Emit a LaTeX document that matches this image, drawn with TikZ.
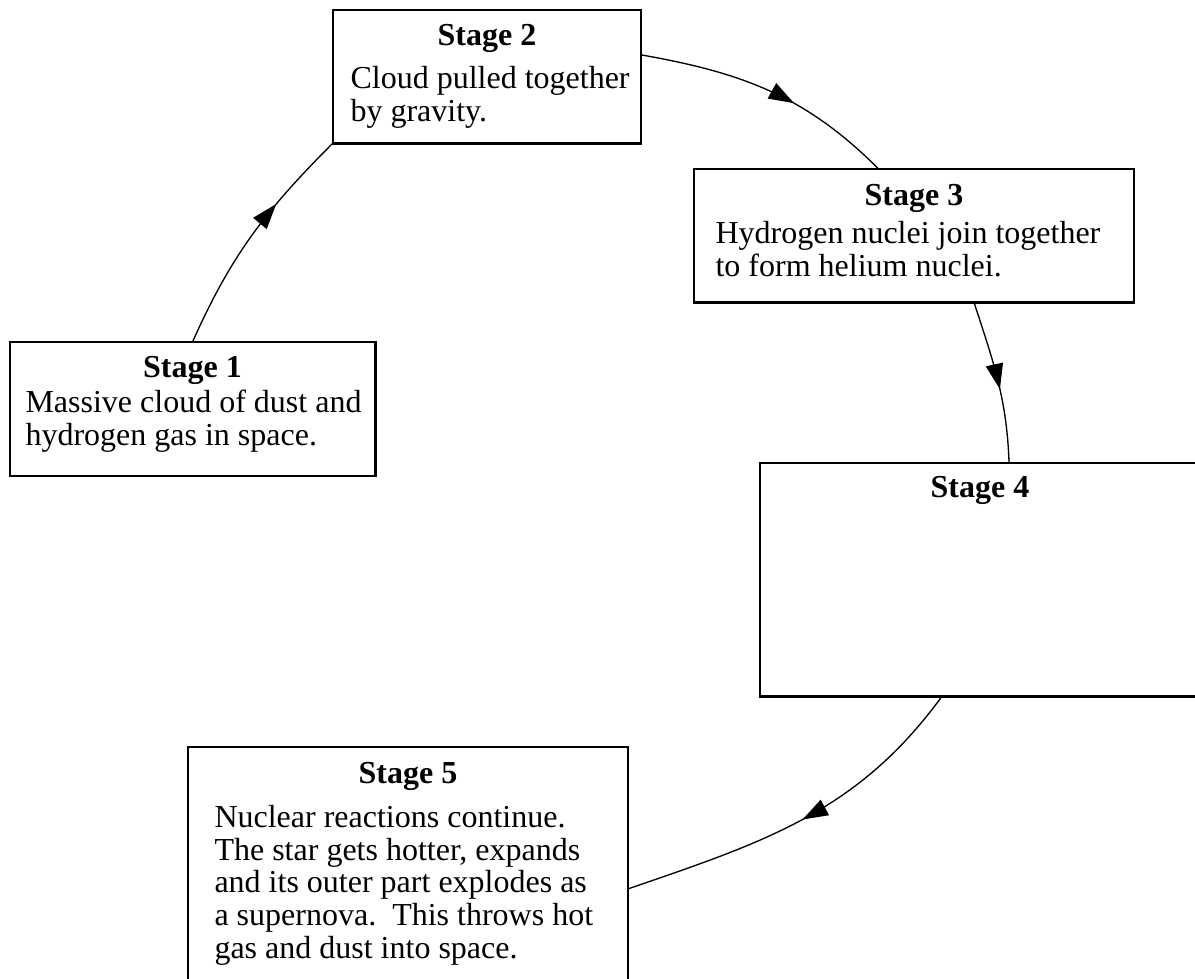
\documentclass[tikz,border=0pt]{standalone}
\usepackage{fontspec}
\setmainfont{Liberation Serif}
\usetikzlibrary{arrows.meta,decorations.markings}

\begin{document}
\begin{tikzpicture}[x=0.375pt,y=0.375pt,
  stagebox/.style={draw,line width=1.1pt,inner sep=0pt,outer sep=0pt},
  stagehead/.style={font=\fontsize{12}{12.2}\selectfont\bfseries,anchor=base,inner sep=0pt},
  stagenote/.style={font=\fontsize{12}{12.2}\selectfont,align=left,anchor=base west,inner sep=0pt},
  arr/.style={line width=0.5pt,postaction={decorate},
    decoration={markings,mark=at position #1 with {\arrow{Triangle[length=9.5pt,width=6.5pt]}}}},
  arr/.default=0.55
]
  \useasboundingbox (0,0) rectangle (1195,-978);

  % Stage 1
  \node[stagebox,minimum width=136.9pt,minimum height=50.25pt] (s1) at (192.5,-409) {};
  \node[stagehead] (h1) at (192.5,-377) {Stage 1};
  \node[stagenote] (n1) at (25,-445) {Massive cloud of dust and\\hydrogen gas in space.};

  % Stage 2
  \node[stagebox,minimum width=115.5pt,minimum height=49.9pt] (s2) at (487,-76.5) {};
  \node[stagehead] (h2) at (487,-45) {Stage 2};
  \node[stagenote] (n2) at (350,-121) {Cloud pulled together\\by gravity.};

  % Stage 3
  \node[stagebox,minimum width=165pt,minimum height=49.9pt] (s3) at (914,-235.5) {};
  \node[stagehead] (h3) at (914,-205) {Stage 3};
  \node[stagenote] (n3) at (715,-276) {Hydrogen nuclei join together\\to form helium nuclei.};

  % Stage 4 (left open)
  \node[stagebox,minimum width=165pt,minimum height=87.4pt] (s4) at (980,-579.5) {};
  \node[stagehead] (h4) at (980,-497) {Stage 4};

  % Stage 5
  \node[stagebox,minimum width=165pt,minimum height=94.9pt] (s5) at (408,-873.5) {};
  \node[stagehead] (h5) at (408,-783) {Stage 5};
  \node[stagenote] (n5) at (214,-958) {Nuclear reactions continue.\\The star gets hotter, expands\\and its outer part explodes as\\a supernova.\ \ This throws hot\\gas and dust into space.};

  % Cycle arrows
  \draw[arr=0.66] (s1.north) to[out=66,in=225] (s2.south west);
  \draw[arr=0.6] (s2.8) to[out=-10,in=135] (s3.118);
  \draw[arr] (s3.-48) to[out=-72,in=92] (s4.76);
  \draw[arr=0.5] (s4.252) to[out=-126,in=19] (s5.-4);
\end{tikzpicture}
\end{document}
